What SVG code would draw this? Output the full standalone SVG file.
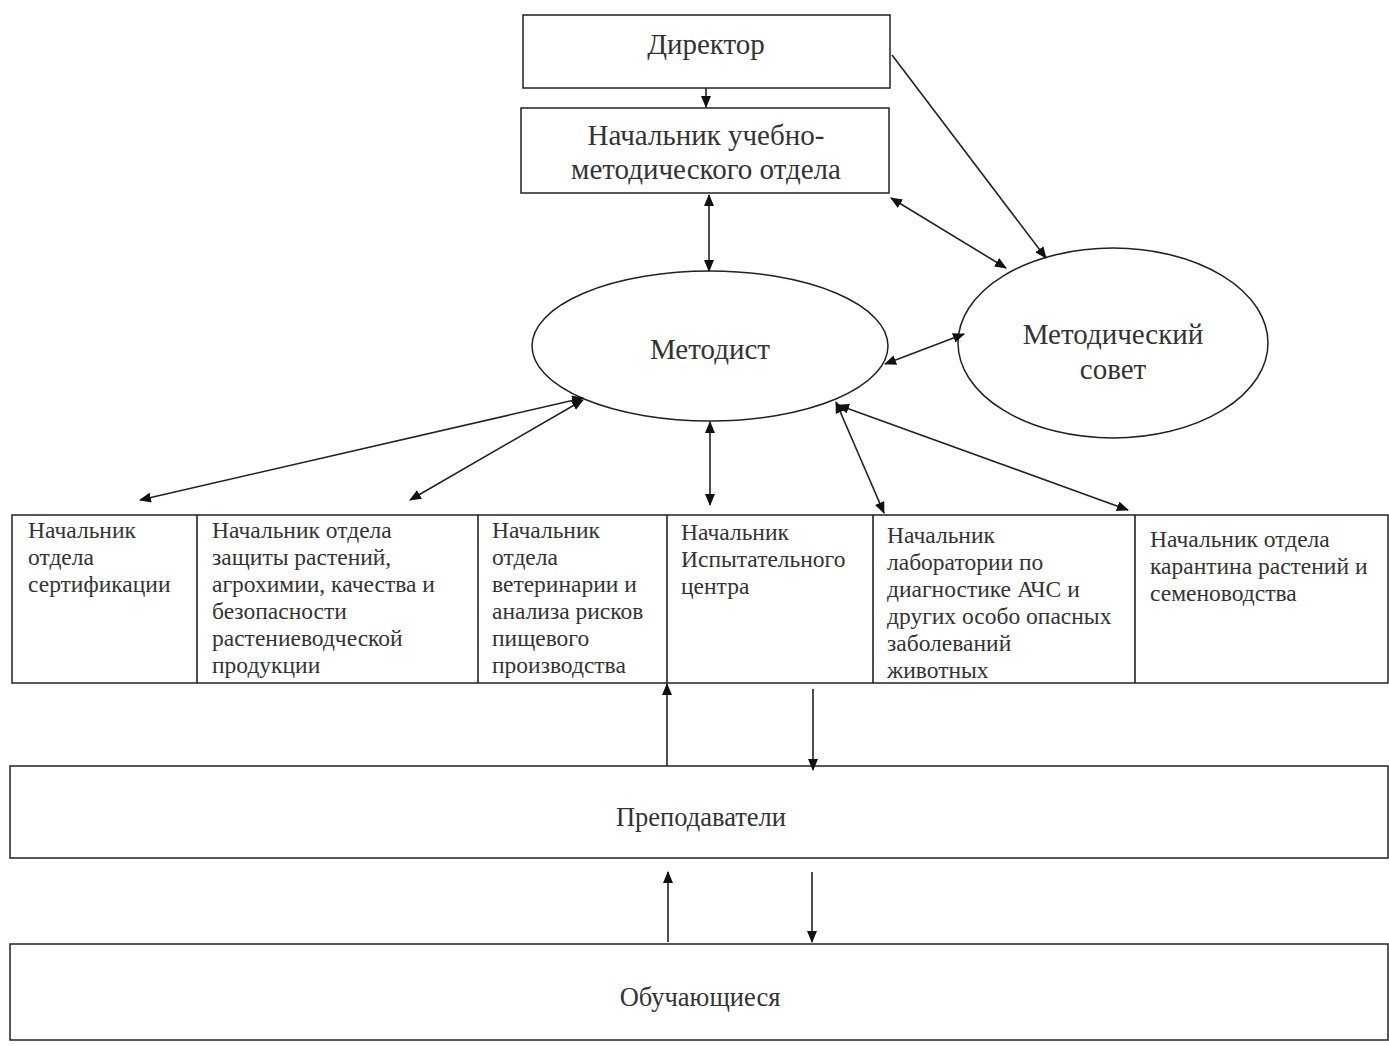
<svg xmlns="http://www.w3.org/2000/svg" width="1389" height="1046" viewBox="0 0 1389 1046">
<style>
.box{fill:#fff;stroke:#222;stroke-width:1.5}
.t{font-family:"Liberation Serif","Times New Roman",serif;fill:#333}
.c{text-anchor:middle}
.big{font-size:29px}
.mid{font-size:26.5px}
.cell{font-size:23.5px}
.ln{stroke:#222;stroke-width:1.6;fill:none}
</style>
<defs>
<marker id="ah" markerWidth="12" markerHeight="10" refX="11" refY="5" orient="auto-start-reverse" markerUnits="userSpaceOnUse">
<path d="M0,0 L12,5 L0,10 Z" fill="#111"/>
</marker>
</defs>
<rect width="1389" height="1046" fill="#fff"/>
<g id="director"><rect class="box" x="523" y="15" width="367" height="73"/><text class="t c big" x="706" y="54">Директор</text></g>
<g id="umo"><rect class="box" x="521" y="108" width="368" height="85"/><text class="t c big" x="706" y="145">Начальник учебно-</text><text class="t c big" x="706" y="179">методического отдела</text></g>
<g id="metodist"><ellipse class="box" cx="710" cy="346" rx="178" ry="75"/><text class="t c big" x="710" y="359">Методист</text></g>
<g id="sovet"><ellipse class="box" cx="1113" cy="343" rx="155" ry="95"/><text class="t c big" x="1113" y="344">Методический</text><text class="t c big" x="1113" y="379">совет</text></g>
<g id="table">
<rect class="box" x="12" y="515" width="1376" height="168"/>
<line class="ln" x1="197" y1="515" x2="197" y2="683"/>
<line class="ln" x1="478" y1="515" x2="478" y2="683"/>
<line class="ln" x1="667" y1="515" x2="667" y2="683"/>
<line class="ln" x1="873" y1="515" x2="873" y2="683"/>
<line class="ln" x1="1135" y1="515" x2="1135" y2="683"/>
</g>
<g id="n1"><text class="t cell" x="28" y="538">Начальник</text><text class="t cell" x="28" y="565">отдела</text><text class="t cell" x="28" y="592">сертификации</text></g>
<g id="n2"><text class="t cell" x="212" y="538">Начальник отдела</text><text class="t cell" x="212" y="565">защиты растений,</text><text class="t cell" x="212" y="592">агрохимии, качества и</text><text class="t cell" x="212" y="619">безопасности</text><text class="t cell" x="212" y="646">растениеводческой</text><text class="t cell" x="212" y="673">продукции</text></g>
<g id="n3"><text class="t cell" x="492" y="538">Начальник</text><text class="t cell" x="492" y="565">отдела</text><text class="t cell" x="492" y="592">ветеринарии и</text><text class="t cell" x="492" y="619">анализа рисков</text><text class="t cell" x="492" y="646">пищевого</text><text class="t cell" x="492" y="673">производства</text></g>
<g id="n4"><text class="t cell" x="681" y="540">Начальник</text><text class="t cell" x="681" y="567">Испытательного</text><text class="t cell" x="681" y="594">центра</text></g>
<g id="n5"><text class="t cell" x="887" y="543">Начальник</text><text class="t cell" x="887" y="570">лаборатории по</text><text class="t cell" x="887" y="597">диагностике АЧС и</text><text class="t cell" x="887" y="624">других особо опасных</text><text class="t cell" x="887" y="651">заболеваний</text><text class="t cell" x="887" y="678">животных</text></g>
<g id="n6"><text class="t cell" x="1150" y="547">Начальник отдела</text><text class="t cell" x="1150" y="574">карантина растений и</text><text class="t cell" x="1150" y="601">семеноводства</text></g>
<g id="teachers"><rect class="box" x="10" y="766" width="1378" height="92"/><text class="t c mid" x="701" y="826">Преподаватели</text></g>
<g id="students"><rect class="box" x="10" y="944" width="1378" height="96"/><text class="t c mid" x="700" y="1006">Обучающиеся</text></g>
<g id="connectors">
<line class="ln" x1="706" y1="88" x2="706" y2="107" marker-end="url(#ah)"/>
<line class="ln" x1="709" y1="195" x2="709" y2="271" marker-start="url(#ah)" marker-end="url(#ah)"/>
<line class="ln" x1="891" y1="198" x2="1006" y2="268" marker-start="url(#ah)" marker-end="url(#ah)"/>
<line class="ln" x1="892" y1="55" x2="1046" y2="258" marker-end="url(#ah)"/>
<line class="ln" x1="885" y1="364" x2="964" y2="334" marker-start="url(#ah)" marker-end="url(#ah)"/>
<line class="ln" x1="583" y1="398" x2="140" y2="500" marker-start="url(#ah)" marker-end="url(#ah)"/>
<line class="ln" x1="583" y1="400" x2="410" y2="500" marker-start="url(#ah)" marker-end="url(#ah)"/>
<line class="ln" x1="710" y1="422" x2="710" y2="505" marker-start="url(#ah)" marker-end="url(#ah)"/>
<line class="ln" x1="836" y1="402" x2="884" y2="513" marker-start="url(#ah)" marker-end="url(#ah)"/>
<line class="ln" x1="838" y1="405" x2="1128" y2="510" marker-start="url(#ah)" marker-end="url(#ah)"/>
<line class="ln" x1="667" y1="766" x2="667" y2="684" marker-end="url(#ah)"/>
<line class="ln" x1="813" y1="689" x2="813" y2="770" marker-end="url(#ah)"/>
<line class="ln" x1="668" y1="942" x2="668" y2="872" marker-end="url(#ah)"/>
<line class="ln" x1="812" y1="872" x2="812" y2="942" marker-end="url(#ah)"/>
</g>
</svg>
